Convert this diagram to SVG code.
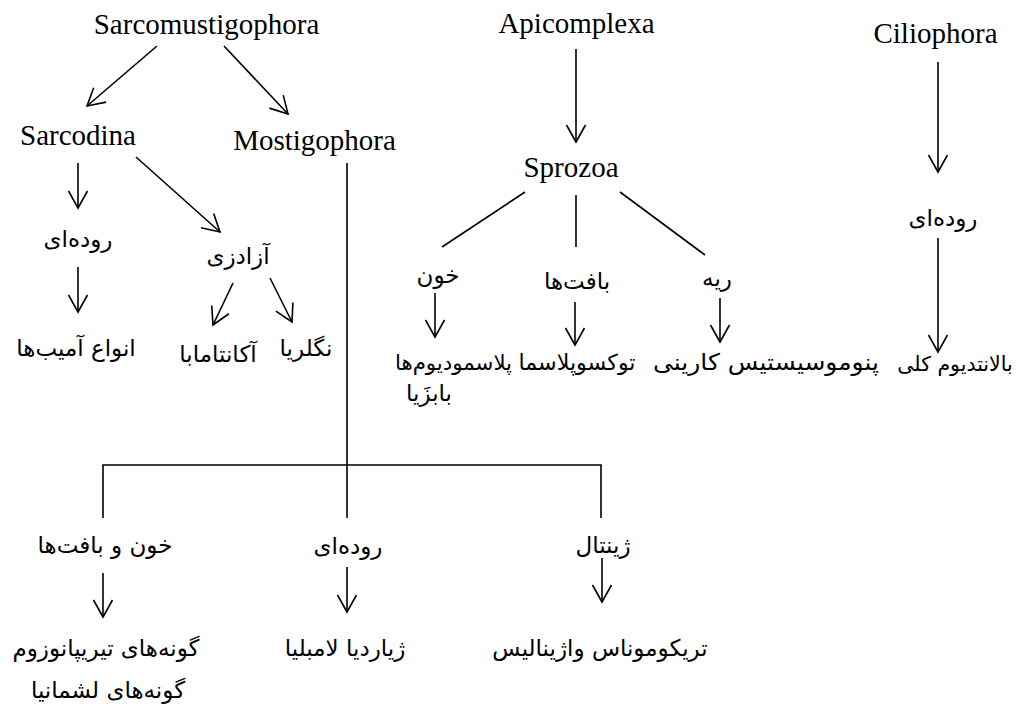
<svg xmlns="http://www.w3.org/2000/svg" width="1016" height="706" viewBox="0 0 1016 706">
<style>
.lat{font-family:"Liberation Serif","Times New Roman",serif;font-size:29px;fill:#000;text-anchor:middle}
.fa{font-family:"DejaVu Sans",sans-serif;font-size:23px;fill:#000;text-anchor:middle;direction:rtl}
.c line,.c path{stroke:#000;stroke-width:1.6;fill:none}
</style>
<defs>
<marker id="ah" viewBox="-20 -12 22 24" markerWidth="22" markerHeight="24" refX="0" refY="0" orient="auto" markerUnits="userSpaceOnUse">
<path d="M-17,-9.5 L0,0 L-17,9.5" fill="none" stroke="#000" stroke-width="1.6" stroke-linejoin="miter"/>
</marker>
</defs>
<rect width="1016" height="706" fill="#fff"/>
<g id="connectors" class="c">
<line x1="157" y1="46" x2="87" y2="106" marker-end="url(#ah)"/>
<line x1="224" y1="46" x2="288" y2="114" marker-end="url(#ah)"/>
<line x1="78" y1="163" x2="78" y2="208" marker-end="url(#ah)"/>
<line x1="136" y1="157" x2="220" y2="232" marker-end="url(#ah)"/>
<line x1="78" y1="267" x2="78" y2="312" marker-end="url(#ah)"/>
<line x1="233" y1="283" x2="213" y2="325" marker-end="url(#ah)"/>
<line x1="270" y1="278" x2="292" y2="322" marker-end="url(#ah)"/>
<line x1="347" y1="163" x2="347" y2="518"/>
<path d="M103,518 V465 H601 V518"/>
<line x1="103" y1="573" x2="103" y2="617" marker-end="url(#ah)"/>
<line x1="347" y1="567" x2="347" y2="612" marker-end="url(#ah)"/>
<line x1="602" y1="558" x2="602" y2="602" marker-end="url(#ah)"/>
<line x1="576" y1="49" x2="576" y2="142" marker-end="url(#ah)"/>
<line x1="525" y1="192" x2="442" y2="247"/>
<line x1="576" y1="195" x2="576" y2="247"/>
<line x1="620" y1="192" x2="705" y2="255"/>
<line x1="435" y1="293" x2="435" y2="337" marker-end="url(#ah)"/>
<line x1="575" y1="302" x2="575" y2="345" marker-end="url(#ah)"/>
<line x1="720" y1="298" x2="720" y2="342" marker-end="url(#ah)"/>
<line x1="938" y1="62" x2="938" y2="172" marker-end="url(#ah)"/>
<line x1="938" y1="238" x2="938" y2="352" marker-end="url(#ah)"/>
</g>
<g id="n-sarcomustigophora"><text class="lat" x="206.5" y="34">Sarcomustigophora</text></g>
<g id="n-sarcodina"><text class="lat" x="78" y="145">Sarcodina</text></g>
<g id="n-mostigophora"><text class="lat" x="314.5" y="150">Mostigophora</text></g>
<g id="n-apicomplexa"><text class="lat" x="576.5" y="33">Apicomplexa</text></g>
<g id="n-sprozoa"><text class="lat" x="571" y="177">Sprozoa</text></g>
<g id="n-ciliophora"><text class="lat" x="935.5" y="43">Ciliophora</text></g>
<g id="n-sarc-intestinal"><text class="fa" x="78" y="247">روده‌ای</text></g>
<g id="n-amoeba"><text class="fa" x="76" y="356">انواع آمیب‌ها</text></g>
<g id="n-freeliving"><text class="fa" x="238" y="264">آزادزی</text></g>
<g id="n-acanthamoeba"><text class="fa" x="218" y="362">آکانتامابا</text></g>
<g id="n-naegleria"><text class="fa" x="306" y="356">نگلریا</text></g>
<g id="n-blood"><text class="fa" x="438" y="283">خون</text></g>
<g id="n-tissue"><text class="fa" x="577" y="289">بافت‌ها</text></g>
<g id="n-lung"><text class="fa" x="717" y="286">ریه</text></g>
<g id="n-plasmodium"><text class="fa" x="453.5" y="370" style="font-size:21.3px">پلاسمودیوم‌ها</text><text class="fa" x="429" y="401">بابزَیا</text></g>
<g id="n-toxoplasma"><text class="fa" x="577" y="370" style="font-size:22.2px">توکسوپلاسما</text></g>
<g id="n-pneumocystis"><text class="fa" x="766" y="370" textLength="226" lengthAdjust="spacingAndGlyphs">پنوموسیستیس کارینی</text></g>
<g id="n-cil-intestinal"><text class="fa" x="943" y="226">روده‌ای</text></g>
<g id="n-balantidium"><text class="fa" x="955" y="371" style="font-size:20.5px">بالانتدیوم کلی</text></g>
<g id="n-bloodtissue"><text class="fa" x="105" y="553">خون و بافت‌ها</text></g>
<g id="n-most-intestinal"><text class="fa" x="348" y="554">روده‌ای</text></g>
<g id="n-genital"><text class="fa" x="603" y="553">ژینتال</text></g>
<g id="n-trypanosoma"><text class="fa" x="106" y="656">گونه‌های تیریپانوزوم</text><text class="fa" x="108" y="698">گونه‌های لشمانیا</text></g>
<g id="n-giardia"><text class="fa" x="345" y="656">ژیاردیا لامبلیا</text></g>
<g id="n-trichomonas"><text class="fa" x="600" y="656">تریکوموناس واژینالیس</text></g>
</svg>
